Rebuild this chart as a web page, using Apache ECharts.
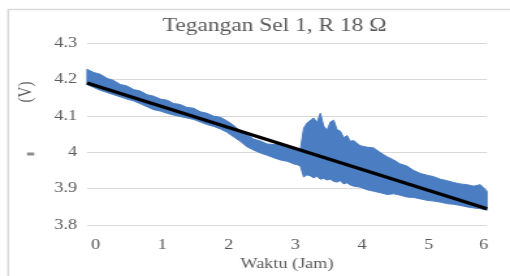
<!DOCTYPE html>
<html><head><meta charset="utf-8">
<script src="https://cdn.jsdelivr.net/npm/echarts@6/dist/echarts.min.js"></script>
<style>html,body{margin:0;padding:0;background:#fff;overflow:hidden}
#wrap{width:510px;height:276px;overflow:hidden;position:relative}
#c{width:392px;height:276px;transform:scaleX(1.30102);transform-origin:0 0}</style>
</head><body><div id="wrap"><div id="c"></div></div>
<script>
const titleText = 'Tegangan Sel 1, R 18 Ω';
const yName = '(V)';
const xName = 'Waktu (Jam)';
const xTicks = [0, 1, 2, 3, 4, 5, 6];
const yTicks = [3.8, 3.9, 4, 4.1, 4.2, 4.3];
const times = [0,0.1,0.2,0.3,0.4,0.5,0.6,0.7,0.8,0.9,1.0,1.1,1.2,1.3,1.4,1.5,1.6,1.7,1.8,1.9,2.0,2.1,2.2,2.3,2.4,2.5,2.6,2.7,2.8,2.9,3.0,
  3.05,3.1,3.15,3.2,3.25,3.3,3.35,3.4,3.45,3.5,3.55,3.6,3.65,3.7,3.75,3.8,3.85,3.9,3.95,4.0,
  4.1,4.2,4.3,4.4,4.5,4.6,4.7,4.8,4.9,5.0,5.1,5.2,5.3,5.4,5.5,5.6,5.7,5.8,5.9,6.0];
const upper = [4.228,4.219,4.214,4.203,4.197,4.186,4.182,4.172,4.168,4.158,4.154,4.146,4.143,4.134,4.131,4.123,4.121,4.111,4.107,4.099,4.096,4.086,4.074,4.057,4.049,4.036,4.031,4.023,4.021,4.025,4.014,
  4.012,4.010,4.008,4.007,4.066,4.080,4.088,4.094,4.082,4.107,4.072,4.060,4.083,4.088,4.062,4.058,4.040,4.046,4.030,4.032,
  4.018,4.014,4.012,3.999,3.988,3.979,3.968,3.962,3.950,3.942,3.937,3.933,3.926,3.922,3.917,3.913,3.911,3.907,3.911,3.893];
const lower = [4.186,4.178,4.170,4.164,4.158,4.152,4.146,4.141,4.133,4.125,4.117,4.113,4.107,4.102,4.098,4.094,4.090,4.083,4.076,4.071,4.064,4.055,4.042,4.030,4.015,4.006,3.998,3.992,3.985,3.979,3.975,
  3.972,3.968,3.966,3.962,3.932,3.938,3.935,3.930,3.934,3.926,3.928,3.924,3.926,3.920,3.918,3.922,3.913,3.916,3.910,3.907,
  3.904,3.897,3.893,3.889,3.884,3.886,3.882,3.877,3.876,3.872,3.868,3.866,3.863,3.859,3.857,3.854,3.850,3.847,3.845,3.841];
const trendTimes = [0, 6];
const trendValues = [4.19, 3.845];

const FONT = 'Liberation Serif';
const GREY = '#595959';
const BLUE = '#4a7dc2';

const chart = echarts.init(document.getElementById('c'), null, {renderer: 'canvas'});
const trendData = trendTimes.map((t, i) => [t, trendValues[i]]);

function renderBand(params, api) {
  const pts = [];
  for (let i = 0; i < times.length; i++) pts.push(api.coord([times[i], upper[i]]));
  for (let i = times.length - 1; i >= 0; i--) pts.push(api.coord([times[i], lower[i]]));
  return {type: 'polygon', shape: {points: pts},
    style: {fill: BLUE, stroke: BLUE, lineWidth: 1}};
}

chart.setOption({
  animation: false,
  backgroundColor: '#fff',
  textStyle: {fontFamily: FONT},
  title: {
    text: titleText, left: 211, top: 17, padding: 0, textAlign: 'center',
    textStyle: {fontFamily: FONT, fontSize: 18, fontWeight: 'normal', color: GREY}
  },
  grid: {left: 66.9, right: 17.7, top: 43, bottom: 48},
  xAxis: {
    type: 'value', min: xTicks[0], max: xTicks[xTicks.length - 1], interval: 1,
    name: xName, nameLocation: 'middle', nameGap: 30,
    nameTextStyle: {fontFamily: FONT, fontSize: 14, color: GREY},
    axisLine: {show: false}, axisTick: {show: false}, splitLine: {show: false},
    axisLabel: {
      margin: 13, fontFamily: FONT, fontSize: 14, color: GREY, padding: [0, 0, 0, 13],
      formatter: v => v === 6 ? '{r|6}' : String(v),
      rich: {r: {fontFamily: FONT, fontSize: 14, color: GREY, padding: [0, 18, 0, 0]}}
    }
  },
  yAxis: {
    type: 'value', min: yTicks[0], max: yTicks[yTicks.length - 1], interval: 0.1,
    axisLine: {show: false}, axisTick: {show: false},
    splitLine: {show: true, lineStyle: {color: '#d9d9d9', width: 1.2}},
    axisLabel: {margin: 7.7, fontFamily: FONT, fontSize: 14, color: GREY,
      formatter: v => String(+v.toFixed(1))}
  },
  graphic: [
    {type: 'rect', left: 3.8, top: 7, silent: true, shape: {width: 600, height: 400},
      style: {fill: 'none', stroke: '#d9d9d9', lineWidth: 1.5}},
    {type: 'text', x: 20, y: 92, rotation: Math.PI / 2, silent: true,
      style: {text: yName, fontFamily: FONT, fontSize: 15, fill: GREY, align: 'center', verticalAlign: 'middle'}},
    {type: 'rect', x: 20.8, y: 152.5, silent: true, shape: {width: 5.5, height: 3},
      style: {fill: '#8c8c8c'}}
  ],
  series: [
    {type: 'custom', name: 'band', coordinateSystem: 'cartesian2d', silent: true,
      data: [[times[0], upper[0]]], encode: {x: 0, y: 1}, renderItem: renderBand, z: 2},
    {type: 'line', name: 'trend', data: trendData, symbol: 'none', silent: true, z: 3,
      lineStyle: {width: 3.2, color: '#000'}}
  ]
});
</script></body></html>
